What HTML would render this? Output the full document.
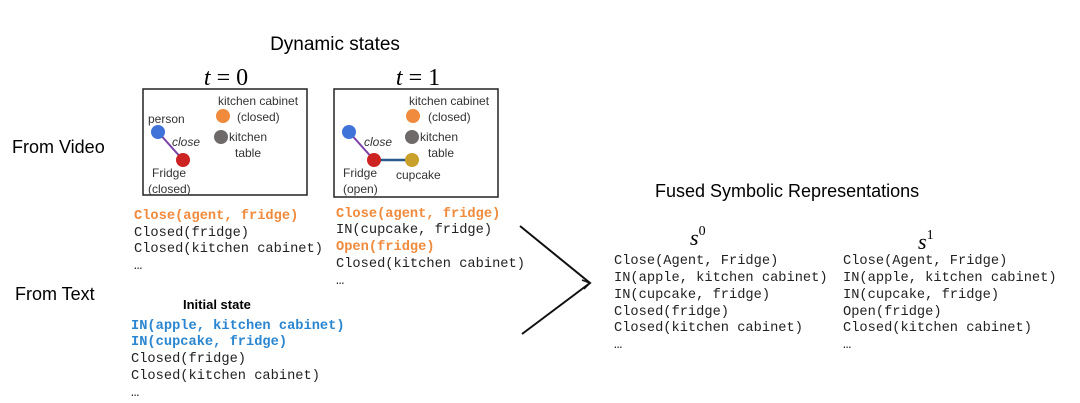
<!DOCTYPE html><html><head><style>body{margin:0;background:#fff}svg{display:block}
.s{font-family:"Liberation Sans",sans-serif}.m{font-family:"Liberation Mono",monospace;font-size:13.7px;fill:#222}
.o{fill:#f08a3c;font-weight:bold}.b{fill:#2a86d0;font-weight:bold}.n{font-family:"Liberation Sans",sans-serif;font-size:12px;fill:#333}</style></head><body>
<svg width="1080" height="403" viewBox="0 0 1080 403">
<text class="s" x="335" y="50" font-size="19" text-anchor="middle">Dynamic states</text>
<text class="s" x="12" y="153" font-size="18">From Video</text>
<text class="s" x="15" y="300" font-size="18">From Text</text>
<text x="226" y="85" font-family="Liberation Serif,serif" font-size="24" text-anchor="middle" font-style="italic">t <tspan font-style="normal">= 0</tspan></text>
<text x="418" y="85" font-family="Liberation Serif,serif" font-size="24" text-anchor="middle" font-style="italic">t <tspan font-style="normal">= 1</tspan></text>
<rect x="143" y="89" width="164" height="106" fill="none" stroke="#222" stroke-width="1.5"/>
<rect x="334" y="89" width="164" height="108" fill="none" stroke="#222" stroke-width="1.5"/>
<line x1="158" y1="132" x2="183" y2="160" stroke="#7a3fa8" stroke-width="2"/>
<circle cx="158" cy="132" r="7" fill="#3f73d8"/><circle cx="183" cy="160" r="7" fill="#cc2222"/>
<circle cx="223" cy="116" r="7" fill="#f08a3c"/><circle cx="221" cy="137" r="7" fill="#6e6a6a"/>
<text class="n" x="148" y="123">person</text><text class="n" x="172" y="146" font-style="italic">close</text>
<text class="n" x="218" y="105">kitchen cabinet</text><text class="n" x="237" y="121">(closed)</text>
<text class="n" x="229" y="141">kitchen</text><text class="n" x="235" y="157">table</text>
<text class="n" x="152" y="177">Fridge</text><text class="n" x="148" y="193">(closed)</text>
<line x1="349" y1="132" x2="374" y2="160" stroke="#7a3fa8" stroke-width="2"/>
<line x1="374" y1="160" x2="412" y2="160" stroke="#2a5a8a" stroke-width="2.5"/>
<circle cx="349" cy="132" r="7" fill="#3f73d8"/><circle cx="374" cy="160" r="7" fill="#cc2222"/>
<circle cx="412" cy="160" r="7" fill="#c9a02a"/>
<circle cx="413" cy="116" r="7" fill="#f08a3c"/><circle cx="412" cy="137" r="7" fill="#6e6a6a"/>
<text class="n" x="364" y="146" font-style="italic">close</text>
<text class="n" x="409" y="105">kitchen cabinet</text><text class="n" x="428" y="121">(closed)</text>
<text class="n" x="420" y="141">kitchen</text><text class="n" x="428" y="157">table</text>
<text class="n" x="343" y="177">Fridge</text><text class="n" x="343" y="193">(open)</text>
<text class="n" x="396" y="179">cupcake</text>
<g class="m">
<text x="134" y="219" class="o">Close(agent, fridge)</text>
<text x="134" y="236">Closed(fridge)</text>
<text x="134" y="252">Closed(kitchen cabinet)</text>
<text x="134" y="269">…</text>
<text x="336" y="217" class="o">Close(agent, fridge)</text>
<text x="336" y="233">IN(cupcake, fridge)</text>
<text x="336" y="250" class="o">Open(fridge)</text>
<text x="336" y="267">Closed(kitchen cabinet)</text>
<text x="336" y="284">…</text>
<text x="131" y="329" class="b">IN(apple, kitchen cabinet)</text>
<text x="131" y="345" class="b">IN(cupcake, fridge)</text>
<text x="131" y="362">Closed(fridge)</text>
<text x="131" y="379">Closed(kitchen cabinet)</text>
<text x="131" y="396">…</text>
</g>
<text class="s" x="183" y="309" font-size="13" font-weight="bold">Initial state</text>
<path d="M520 226 L590 283 L522 334" fill="none" stroke="#111" stroke-width="2"/>
<path d="M582 280 L590 283 L584 289" fill="none" stroke="#111" stroke-width="1.5"/>
<text class="s" x="655" y="197" font-size="18">Fused Symbolic Representations</text>
<text x="690" y="245" font-family="Liberation Serif,serif" font-size="22" font-style="italic">s<tspan font-size="14" dy="-10" font-style="normal">0</tspan></text>
<text x="918" y="249" font-family="Liberation Serif,serif" font-size="22" font-style="italic">s<tspan font-size="14" dy="-10" font-style="normal">1</tspan></text>
<g class="m">
<text x="614" y="264">Close(Agent, Fridge)</text>
<text x="614" y="281">IN(apple, kitchen cabinet)</text>
<text x="614" y="298">IN(cupcake, fridge)</text>
<text x="614" y="315">Closed(fridge)</text>
<text x="614" y="331">Closed(kitchen cabinet)</text>
<text x="614" y="348">…</text>
<text x="843" y="264">Close(Agent, Fridge)</text>
<text x="843" y="281">IN(apple, kitchen cabinet)</text>
<text x="843" y="298">IN(cupcake, fridge)</text>
<text x="843" y="315">Open(fridge)</text>
<text x="843" y="331">Closed(kitchen cabinet)</text>
<text x="843" y="348">…</text>
</g>
</svg></body></html>
